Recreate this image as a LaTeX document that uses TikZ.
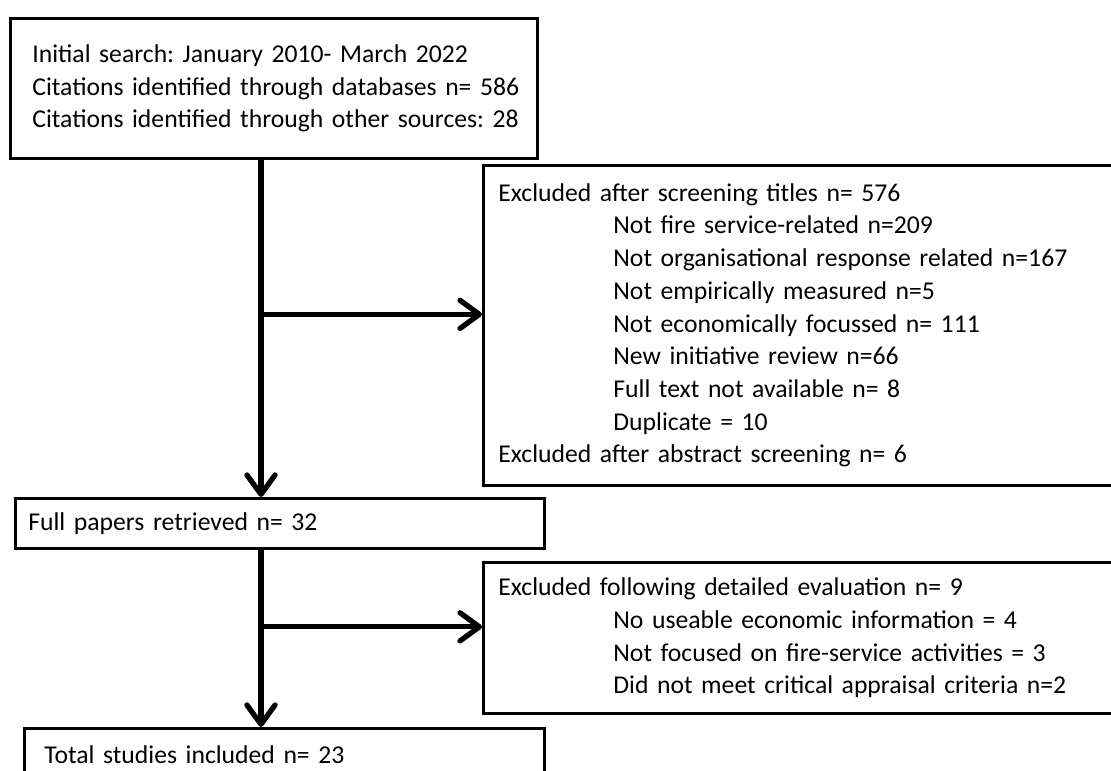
\documentclass[tikz,border=0pt]{standalone}
\usepackage{fontspec}
\setmainfont{Carlito}
\usetikzlibrary{arrows.meta}

\tikzset{
  stagebox/.style={draw, line width=0.75pt, rectangle, anchor=north west,
    align=left, inner xsep=0.15cm, inner ysep=0pt,
    font=\fontsize{7.3pt}{9.3pt}\selectfont\frenchspacing},
  textinset/.style={execute at begin node={\leftskip=#1\relax}},
  flow/.style={line width=1.5pt, line cap=round,
    -{Straight Barb[length=5.5pt,width=8pt,line cap=round,line join=round]}},
}
\newcommand{\exclline}[1]{\hspace*{1.15cm}#1}

\begin{document}
\begin{tikzpicture}[x=0.01cm,y=-0.01cm]
  \useasboundingbox (0,0) rectangle (1111,771);

  % Initial search
  \node[stagebox,inner xsep=0.03cm,textinset=0.19cm,text width=5.21cm,
    minimum height=1.40cm]
    (search) at (9,17) {Initial search: January 2010- March 2022\\
    Citations identified through databases n= 586\\
    Citations identified through other sources: 28};

  % Excluded after screening
  \node[stagebox,text width=6.08cm,minimum height=3.20cm]
    (titles) at (482,164) {Excluded after screening titles n= 576\\
    \exclline{Not fire service-related n=209}\\
    \exclline{Not organisational response related n=167}\\
    \exclline{Not empirically measured n=5}\\
    \exclline{Not economically focussed n= 111}\\
    \exclline{New initiative review n=66}\\
    \exclline{Full text not available n= 8}\\
    \exclline{Duplicate = 10}\\
    Excluded after abstract screening n= 6};

  % Full papers
  \node[stagebox,inner xsep=0.13cm,text width=5.03cm,minimum height=0.50cm]
    (papers) at (14,497) {Full papers retrieved n= 32};

  % Excluded after evaluation
  \node[stagebox,text width=6.08cm,minimum height=1.51cm]
    (detail) at (482,561) {Excluded following detailed evaluation n= 9\\
    \exclline{No useable economic information = 4}\\
    \exclline{Not focused on fire-service activities = 3}\\
    \exclline{Did not meet critical appraisal criteria n=2}};

  % Total included
  \node[stagebox,inner xsep=0.20cm,text width=4.80cm,minimum height=0.52cm]
    (total) at (23,727) {Total studies included n= 23};

  % Main flow
  \coordinate (trunk) at (261,0);
  \coordinate (titlesin) at ([yshift=0.11cm]titles.west);
  \coordinate (detailin) at ([yshift=0.11cm]detail.west);
  \draw[flow] (search.south -| trunk) -- (papers.north -| trunk);
  \draw[flow] (papers.south -| trunk) -- (total.north -| trunk);

  % Side exits
  \draw[flow] (trunk |- titlesin) -- (titlesin);
  \draw[flow] (trunk |- detailin) -- (detailin);
\end{tikzpicture}
\end{document}
